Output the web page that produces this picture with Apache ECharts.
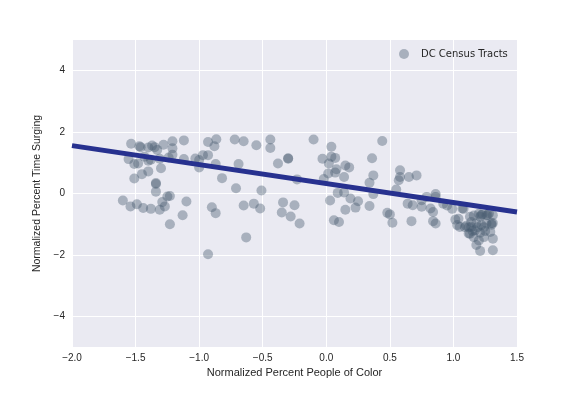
<!DOCTYPE html>
<html>
<head>
<meta charset="utf-8">
<script src="https://cdn.jsdelivr.net/npm/echarts@6/dist/echarts.min.js"></script>
<style>
  html, body { margin: 0; padding: 0; background: #fff; }
  #chart { width: 576px; height: 396px; }
</style>
</head>
<body>
<div id="chart"></div>
<script>
// census tracts: [normalized % people of color, normalized % time surging]
var tracts = [
  [-1.60, -0.23], [-1.54, -0.42], [-1.49, -0.35], [-1.44, -0.47], [-1.38, -0.50], [-1.31, -0.53],
  [-1.29, -0.28], [-1.27, -0.42], [-1.25, -0.10], [-1.23, -0.08], [-1.23, -1.00], [-1.13, -0.71],
  [-1.10, -0.26],
  [-1.535, 1.62], [-1.47, 1.54], [-1.46, 1.51], [-1.40, 1.50], [-1.37, 1.56], [-1.35, 1.51],
  [-1.33, 1.42], [-1.28, 1.59], [-1.21, 1.70], [-1.21, 1.47], [-1.21, 1.26], [-1.12, 1.73],
  [-1.555, 1.12], [-1.51, 0.96], [-1.48, 0.98], [-1.43, 1.20], [-1.40, 1.07], [-1.38, 1.10],
  [-1.31, 1.13], [-1.24, 1.17], [-1.12, 1.12],
  [-1.51, 0.49], [-1.45, 0.63], [-1.40, 0.72], [-1.30, 0.82], [-1.34, 0.34], [-1.34, 0.31],
  [-1.34, 0.06],
  [-1.03, 1.14], [-1.00, 1.09], [-1.00, 0.85], [-0.97, 1.25], [-0.93, 1.68], [-0.93, 1.25],
  [-0.88, 1.54], [-0.865, 1.77], [-0.87, 0.96], [-0.90, -0.45], [-0.87, -0.64], [-0.93, -1.98],
  [-0.82, 0.50],
  [-0.72, 1.76], [-0.65, 1.70], [-0.69, 0.96], [-0.71, 0.17], [-0.65, -0.39], [-0.63, -1.43],
  [-0.57, -0.33], [-0.55, 1.57], [-0.52, -0.49], [-0.51, 0.10], [-0.44, 1.48], [-0.44, 1.76],
  [-0.38, 0.98], [-0.34, -0.29], [-0.35, -0.62], [-0.30, 1.15], [-0.30, 1.13], [-0.28, -0.75],
  [-0.25, -0.38], [-0.23, 0.46], [-0.21, -0.98],
  [-0.10, 1.76], [-0.03, 1.13], [-0.02, 0.47], [0.02, 0.98], [0.015, 0.65], [0.03, -0.23],
  [0.04, 1.52], [0.04, 1.20], [0.06, -0.87], [0.07, 1.16], [0.07, 0.68], [0.08, 0.79],
  [0.09, 0.02], [0.10, -0.93], [0.14, 0.03], [0.14, 0.54], [0.15, 0.91], [0.18, 0.85],
  [0.15, -0.53], [0.19, -0.16], [0.23, -0.46], [0.25, -0.25],
  [0.34, -0.41], [0.34, 0.35], [0.36, 1.15], [0.37, 0.59], [0.37, -0.02], [0.44, 1.71],
  [0.48, -0.63], [0.50, -0.68], [0.52, -0.95], [0.55, 0.13], [0.58, 0.76], [0.57, 0.43],
  [0.58, 0.54], [0.64, -0.33], [0.65, 0.54], [0.68, -0.38], [0.67, -0.90], [0.71, 0.59],
  [0.75, -0.43], [0.75, -0.22], [0.79, -0.11], [0.82, -0.49], [0.84, -0.60], [0.84, -0.90],
  [0.86, -0.98], [0.86, -0.02], [0.86, -0.11], [0.92, -0.33], [0.95, -0.39], [0.99, -0.50],
  [1.015, -0.85], [1.03, -1.03], [1.05, -1.09], [1.07, -0.49], [1.08, -0.50], [1.09, -1.10],
  [1.04, -0.82], [1.12, -1.30], [1.13, -0.76], [1.14, -0.93], [1.14, -1.09], [1.16, -0.72],
  [1.16, -1.42], [1.17, -1.20], [1.18, -0.97], [1.18, -1.68], [1.20, -0.66], [1.20, -1.53],
  [1.21, -1.87], [1.21, -0.76], [1.22, -1.03], [1.21, -1.28], [1.23, -0.68], [1.24, -1.42],
  [1.25, -1.22], [1.26, -0.98], [1.26, -0.71], [1.27, -0.70], [1.28, -0.65], [1.29, -1.25],
  [1.30, -0.97], [1.30, -1.02], [1.31, -1.47], [1.31, -1.85], [1.31, -0.71], [1.31, -0.96],
  [1.12, -1.10], [1.15, -1.22], [1.19, -1.10], [1.24, -1.10], [1.10, -1.05], [1.13, -1.31],
  [1.22, -0.70]
];

// fitted regression line, end points
var fitX = [-2.0, 1.5];
var fitY = [1.56, -0.60];

var yTicks = [-4, -2, 0, 2, 4];

function minus(s) {
  return String(s).replace("-", "\u2212");
}

var chart = echarts.init(document.getElementById("chart"));
chart.setOption({
  animation: false,
  backgroundColor: "#fff",
  textStyle: { fontFamily: "Liberation Sans, Arial, sans-serif" },
  grid: {
    left: 72,
    right: 59,
    top: 40,
    bottom: 49,
    show: true,
    backgroundColor: "#eaeaf2",
    borderWidth: 0,
  },
  legend: {
    left: 394,
    top: 44,
    itemWidth: 24,
    itemHeight: 10,
    itemGap: 0,
    textStyle: { color: "#262626", fontSize: 10, fontFamily: "DejaVu Sans, sans-serif" },
    data: [{ name: "DC Census Tracts", icon: "circle" }],
  },
  xAxis: {
    type: "value",
    min: -2,
    max: 1.5,
    interval: 0.5,
    name: "Normalized Percent People of Color",
    nameLocation: "middle",
    nameGap: 20,
    nameTextStyle: { color: "#262626", fontSize: 11 },
    axisLine: { show: false },
    axisTick: { show: false },
    axisLabel: {
      color: "#262626",
      fontSize: 10,
      margin: 6,
      formatter: function (v) {
        return minus(v.toFixed(1));
      },
    },
    splitLine: { show: true, lineStyle: { color: "#fff", width: 1 } },
  },
  yAxis: {
    type: "value",
    min: -5,
    max: 5,
    name: "Normalized Percent Time Surging",
    nameLocation: "middle",
    nameGap: 25,
    nameTextStyle: { color: "#262626", fontSize: 10.5 },
    axisLine: { show: false },
    axisTick: { show: false, customValues: yTicks },
    axisLabel: {
      color: "#262626",
      fontSize: 10,
      margin: 7,
      customValues: yTicks,
      formatter: function (v) {
        return minus(v);
      },
    },
    splitLine: { show: true, lineStyle: { color: "#fff", width: 1 } },
  },
  series: [
    {
      name: "DC Census Tracts",
      type: "scatter",
      symbolSize: 10,
      itemStyle: { color: "rgba(70, 90, 110, 0.5)" },
      data: tracts,
      z: 2,
    },
    {
      name: "fit",
      type: "line",
      showSymbol: false,
      symbol: "none",
      lineStyle: { color: "#27318f", width: 5 },
      data: fitX.map(function (x, i) {
        return [x, fitY[i]];
      }),
      z: 3,
    },
  ],
});
</script>
</body>
</html>
